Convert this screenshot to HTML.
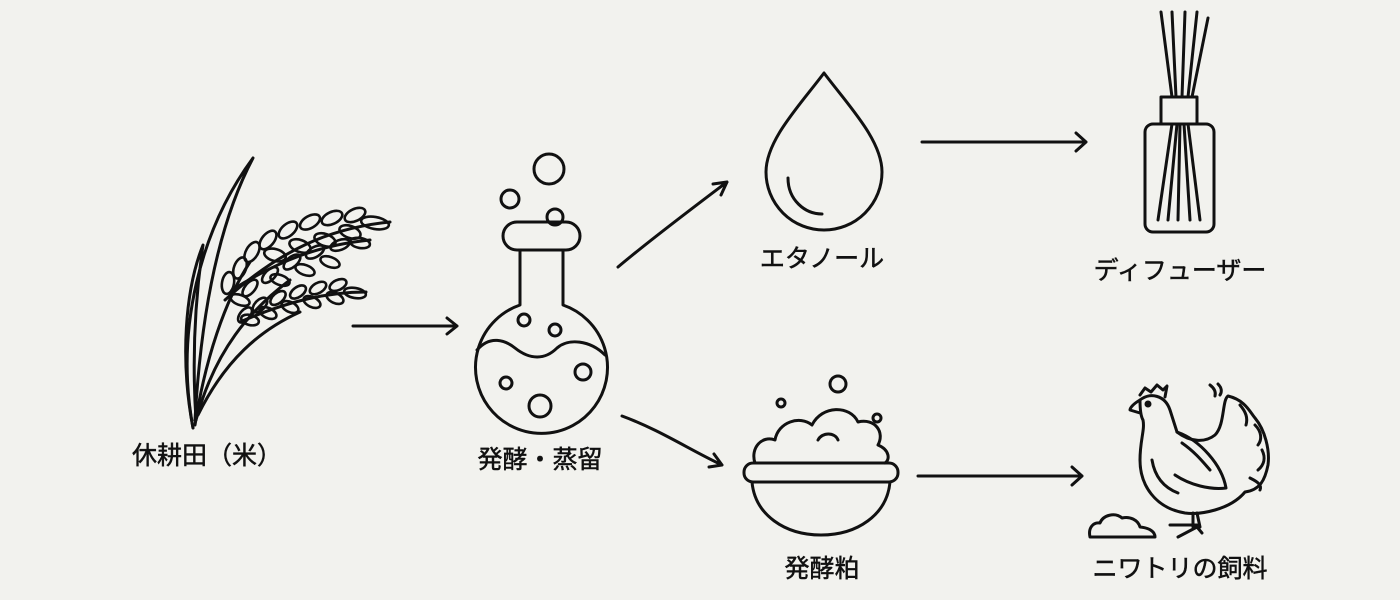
<!DOCTYPE html>
<html><head><meta charset="utf-8"><style>
html,body{margin:0;padding:0;background:#f2f2ee;width:1400px;height:600px;overflow:hidden}
svg{display:block}
text{font-family:"Liberation Sans","Noto Sans CJK JP",sans-serif;font-size:25px;fill:#111;stroke:#111;stroke-width:0.5;text-anchor:middle}
</style></head><body>
<svg width="1400" height="600" viewBox="0 0 1400 600" fill="none" stroke="#111" stroke-width="3" stroke-linecap="round" stroke-linejoin="round">
<!-- rice -->
<path d="M193 428 C175 330 200 230 253 158 C215 230 200 330 195 420"/>
<path d="M193 428 C180 360 185 290 203 245 C195 300 192 360 196 420"/>
<path d="M195 425 C205 360 225 300 250 262"/>
<path d="M196 420 C215 350 250 310 290 280"/>
<path d="M198 415 C225 360 260 330 300 312"/>
<path d="M225 300 C280 250 330 228 390 222"/>
<path d="M232 290 C280 260 320 245 370 240"/>
<path d="M240 322 C290 300 330 292 366 292"/>
<g stroke-width="2.6">
<ellipse cx="375" cy="223" rx="14" ry="6" transform="rotate(10 375 223)"/>
<ellipse cx="355" cy="215" rx="11" ry="6" transform="rotate(-25 355 215)"/>
<ellipse cx="332" cy="218" rx="11" ry="6" transform="rotate(-25 332 218)"/>
<ellipse cx="310" cy="222" rx="11" ry="6" transform="rotate(-30 310 222)"/>
<ellipse cx="288" cy="230" rx="11" ry="6" transform="rotate(-40 288 230)"/>
<ellipse cx="268" cy="240" rx="11" ry="6" transform="rotate(-50 268 240)"/>
<ellipse cx="252" cy="252" rx="11" ry="6" transform="rotate(-60 252 252)"/>
<ellipse cx="240" cy="268" rx="11" ry="6" transform="rotate(-70 240 268)"/>
<ellipse cx="228" cy="283" rx="11" ry="6" transform="rotate(-80 228 283)"/>
<ellipse cx="350" cy="232" rx="11" ry="6" transform="rotate(20 350 232)"/>
<ellipse cx="325" cy="240" rx="11" ry="6" transform="rotate(20 325 240)"/>
<ellipse cx="300" cy="246" rx="11" ry="6" transform="rotate(20 300 246)"/>
<ellipse cx="275" cy="255" rx="11" ry="6" transform="rotate(15 275 255)"/>
<ellipse cx="360" cy="243" rx="10" ry="5" transform="rotate(10 360 243)"/>
<ellipse cx="340" cy="245" rx="10" ry="5" transform="rotate(-20 340 245)"/>
<ellipse cx="315" cy="252" rx="10" ry="5" transform="rotate(-30 315 252)"/>
<ellipse cx="292" cy="262" rx="10" ry="5" transform="rotate(-40 292 262)"/>
<ellipse cx="270" cy="275" rx="10" ry="5" transform="rotate(-45 270 275)"/>
<ellipse cx="250" cy="288" rx="10" ry="5" transform="rotate(-50 250 288)"/>
<ellipse cx="240" cy="300" rx="10" ry="5" transform="rotate(20 240 300)"/>
<ellipse cx="330" cy="262" rx="10" ry="5" transform="rotate(20 330 262)"/>
<ellipse cx="305" cy="270" rx="10" ry="5" transform="rotate(20 305 270)"/>
<ellipse cx="280" cy="280" rx="10" ry="5" transform="rotate(20 280 280)"/>
<ellipse cx="355" cy="293" rx="11" ry="5" transform="rotate(10 355 293)"/>
<ellipse cx="338" cy="285" rx="9" ry="5" transform="rotate(-25 338 285)"/>
<ellipse cx="318" cy="288" rx="9" ry="5" transform="rotate(-30 318 288)"/>
<ellipse cx="298" cy="292" rx="9" ry="5" transform="rotate(-35 298 292)"/>
<ellipse cx="278" cy="298" rx="9" ry="5" transform="rotate(-40 278 298)"/>
<ellipse cx="260" cy="305" rx="9" ry="5" transform="rotate(-45 260 305)"/>
<ellipse cx="245" cy="315" rx="9" ry="5" transform="rotate(-50 245 315)"/>
<ellipse cx="335" cy="298" rx="9" ry="5" transform="rotate(25 335 298)"/>
<ellipse cx="312" cy="302" rx="9" ry="5" transform="rotate(25 312 302)"/>
<ellipse cx="290" cy="307" rx="9" ry="5" transform="rotate(25 290 307)"/>
<ellipse cx="268" cy="313" rx="9" ry="5" transform="rotate(25 268 313)"/>
<ellipse cx="250" cy="320" rx="9" ry="5" transform="rotate(15 250 320)"/>
</g>
<!-- arrows -->
<path d="M353 326 H457 M447 318 L457 326 L447 334"/>
<path d="M618 267 C650 240 690 210 727 182 M713 184 L727 182 L721 195"/>
<path d="M622 416 C660 430 690 450 722 465 M714 454 L722 465 L709 467"/>
<path d="M922 142 H1086 M1076 133 L1086 142 L1076 151"/>
<path d="M918 476 H1082 M1072 467 L1082 476 L1072 485"/>
<!-- flask -->
<circle cx="549" cy="169" r="15"/><circle cx="510" cy="199" r="9"/><circle cx="555" cy="217" r="8"/>
<rect x="503" y="222" width="77" height="28" rx="14"/>
<path d="M520 250 V305 A66 66 0 1 0 563 305 V250"/>
<path d="M477 350 C490 335 505 340 515 348 C530 360 545 360 557 348 C568 338 590 340 605 355"/>
<circle cx="524" cy="320" r="6"/><circle cx="555" cy="330" r="6"/><circle cx="583" cy="372" r="8"/><circle cx="506" cy="383" r="6"/><circle cx="540" cy="406" r="11"/>
<!-- drop -->
<path d="M824 73 C800 105 766 140 766 172 A58 58 0 0 0 882 172 C882 140 848 105 824 73 Z"/>
<path d="M788 178 C788 200 805 214 822 214"/>
<!-- diffuser -->
<path d="M1161 12 L1172 97 M1172 12 L1176 97 M1185 12 L1182 97 M1197 12 L1188 97 M1208 18 L1192 97"/>
<path d="M1158 220 L1172 124 M1168 220 L1177 124 M1178 220 L1180 124 M1190 220 L1184 124 M1200 220 L1188 124"/>
<rect x="1161" y="97" width="36" height="27"/>
<rect x="1145" y="124" width="69" height="108" rx="8"/>
<!-- bowl -->
<circle cx="838" cy="384" r="8"/><circle cx="781" cy="403" r="4"/><circle cx="877" cy="418" r="4"/>
<path d="M755 463 C750 448 762 435 775 440 C778 422 800 415 812 425 C822 405 850 405 858 422 C875 418 885 432 878 445 C890 450 890 460 885 463"/>
<path d="M818 440 C822 432 835 432 838 440"/>
<rect x="744" y="463" width="154" height="19" rx="9"/>
<path d="M752 482 C755 515 785 535 821 535 C857 535 887 515 890 482"/>
<!-- chicken -->
<path d="M1140 395 L1145 388 L1151 392 L1157 385 L1163 390 L1167 386 L1165 397"/>
<path d="M1140 400 C1133 404 1130 408 1130 410 L1140 413"/>
<circle cx="1148" cy="404" r="2" fill="#111"/>
<path d="M1140 400 C1150 392 1165 395 1170 410 L1177 432 C1190 442 1205 443 1215 435 C1225 425 1222 400 1228 396 C1245 400 1250 412 1255 418 C1265 430 1270 450 1268 465 C1265 480 1260 490 1245 492 C1230 510 1200 515 1185 513 C1155 508 1140 485 1140 460 C1140 440 1145 430 1143 420 C1140 415 1140 405 1140 400"/>
<path d="M1177 432 C1200 440 1222 465 1226 488 C1210 490 1190 485 1175 475"/>
<path d="M1152 460 C1155 478 1165 488 1178 493"/>
<path d="M1182 443 C1195 452 1203 462 1210 470"/>
<path d="M1240 405 C1246 412 1248 418 1246 425 M1255 425 C1262 432 1262 440 1258 445 M1262 450 C1266 458 1264 465 1258 470 M1250 478 C1258 482 1262 485 1260 490"/>
<path d="M1210 385 C1214 388 1216 392 1215 396 M1218 384 C1222 388 1222 392 1220 395"/>
<path d="M1193 513 L1193 527 M1197 513 L1200 527 M1170 525 H1197 M1178 537 L1197 527 L1202 533"/>
<path d="M1090 537 C1088 528 1093 522 1100 523 C1103 515 1115 512 1122 518 C1130 516 1138 520 1140 527 C1150 528 1155 532 1155 537 Z"/>
</svg>
<svg width="1400" height="600" style="position:absolute;left:0;top:0">
<text x="207" y="464">休耕田（米）</text>
<text x="540" y="468">発酵・蒸留</text>
<text x="822" y="267">エタノール</text>
<text x="1180" y="279">ディフューザー</text>
<text x="822" y="577">発酵粕</text>
<text x="1180" y="577">ニワトリの飼料</text>
</svg>
</body></html>
